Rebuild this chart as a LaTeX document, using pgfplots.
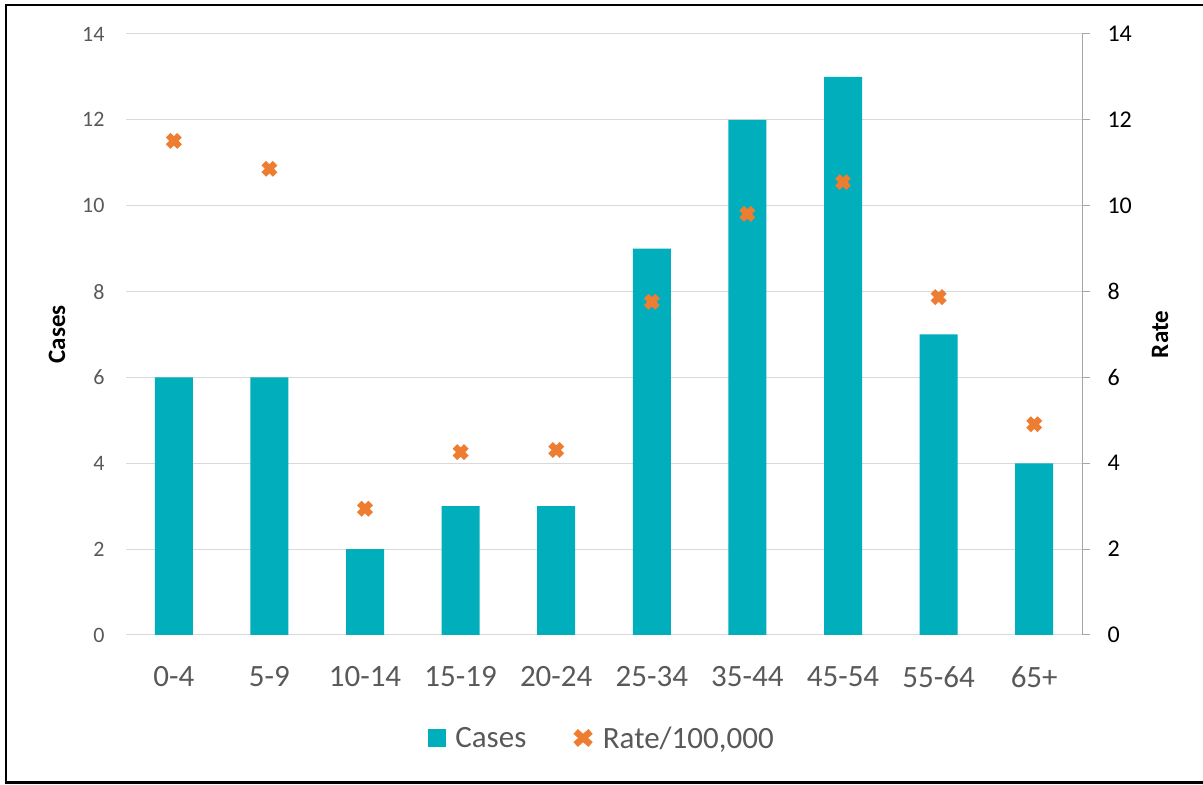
\documentclass[border=0pt]{standalone}
\usepackage{pgfplots}
\pgfplotsset{compat=1.18}
\usepackage{fontspec}
\setmainfont{Carlito}
\definecolor{teal1}{HTML}{00AEBC}
\definecolor{orange1}{HTML}{ED7D31}
\definecolor{gridg}{HTML}{D9D9D9}
\definecolor{axg}{HTML}{A6A6A6}
\definecolor{txtg}{HTML}{595959}
\begin{document}
\begin{tikzpicture}
\useasboundingbox (0bp,0bp) rectangle (1203bp,785bp);
\draw[line width=2.2bp,black] (1203bp,780bp) -- (6bp,780bp) -- (6bp,2.5bp) -- (1203bp,2.5bp);
\begin{axis}[
  at={(126bp,150bp)}, anchor=south west,
  scale only axis, width=956bp, height=601bp,
  xmin=-0.5, xmax=9.5, ymin=0, ymax=14,
  xtick={0,...,9},
  xticklabels={0-4,5-9,10-14,15-19,20-24,25-34,35-44,45-54,55-64,65+},
  ytick={0,2,...,14},
  axis y line*=left, axis x line*=bottom,
  y axis line style={draw=none},
  x axis line style={draw=gridg, line width=1bp},
  major tick length=0pt,
  ymajorgrids, grid style={gridg, line width=1bp},
  /pgf/number format/assume math mode=true,
  yticklabel style={font=\fontsize{22bp}{26bp}\selectfont, text=txtg, xshift=-18bp},
  xticklabel style={font=\fontsize{31bp}{36bp}\selectfont, text=txtg, yshift=-28bp},
  ylabel={\textbf{Cases}},
  ylabel style={font=\fontsize{25bp}{30bp}\selectfont, at={(axis description cs:-0.0722,0.5)}, anchor=center},
  clip=false,
]
\addplot[ybar, bar width=38bp, fill=teal1, draw=none, bar shift=0pt] coordinates {
 (0,6) (1,6) (2,2) (3,3) (4,3) (5,9) (6,12) (7,13) (8,7) (9,4)};
\end{axis}
\begin{axis}[
  at={(126bp,150bp)}, anchor=south west,
  scale only axis, width=956bp, height=601bp,
  xmin=-0.5, xmax=9.5, ymin=0, ymax=14,
  ytick={0,2,...,14},
  axis y line*=right, axis x line=none,
  y axis line style={draw=axg, line width=1bp},
  ytick style={draw=axg, line width=1bp},
  tick align=outside, major tick length=8bp,
  /pgf/number format/assume math mode=true,
  yticklabel style={font=\fontsize{24bp}{28bp}\selectfont, text=black, xshift=14bp},
  ylabel={\textbf{Rate}},
  ylabel style={font=\fontsize{25bp}{30bp}\selectfont, at={(axis description cs:1.0816,0.5)}, anchor=center},
  clip=false,
]
\addplot[only marks, mark=x, mark size=8bp, mark options={line width=6.5bp, draw=orange1}] coordinates {
 (0,11.51) (1,10.86) (2,2.94) (3,4.26) (4,4.31) (5,7.76) (6,9.81) (7,10.55) (8,7.87) (9,4.91)};
\end{axis}
% legend
\begin{axis}[
  at={(0bp,0bp)}, anchor=south west,
  scale only axis, width=1203bp, height=785bp,
  xmin=0, xmax=1203, ymin=0, ymax=785,
  hide axis, clip=false,
  legend style={at={(axis cs:602,47)}, anchor=center, draw=none, fill=none,
    legend columns=2, font=\fontsize{31bp}{36bp}\selectfont, text=txtg,
    /tikz/every odd column/.append style={column sep=7bp},
    /tikz/every even column/.append style={column sep=44bp}},
  legend image code/.code={},
]
\addlegendimage{area legend, fill=teal1, draw=none, legend image code/.code={\fill[teal1] (0bp,-9bp) rectangle (18bp,9bp);}}
\addlegendentry{Cases}
\addlegendimage{only marks, legend image code/.code={\draw[orange1, line width=6.5bp] (2bp,-6.5bp) -- (17bp,6.5bp) (2bp,6.5bp) -- (17bp,-6.5bp);}}
\addlegendentry{Rate/100,000}
\end{axis}
\end{tikzpicture}
\end{document}
